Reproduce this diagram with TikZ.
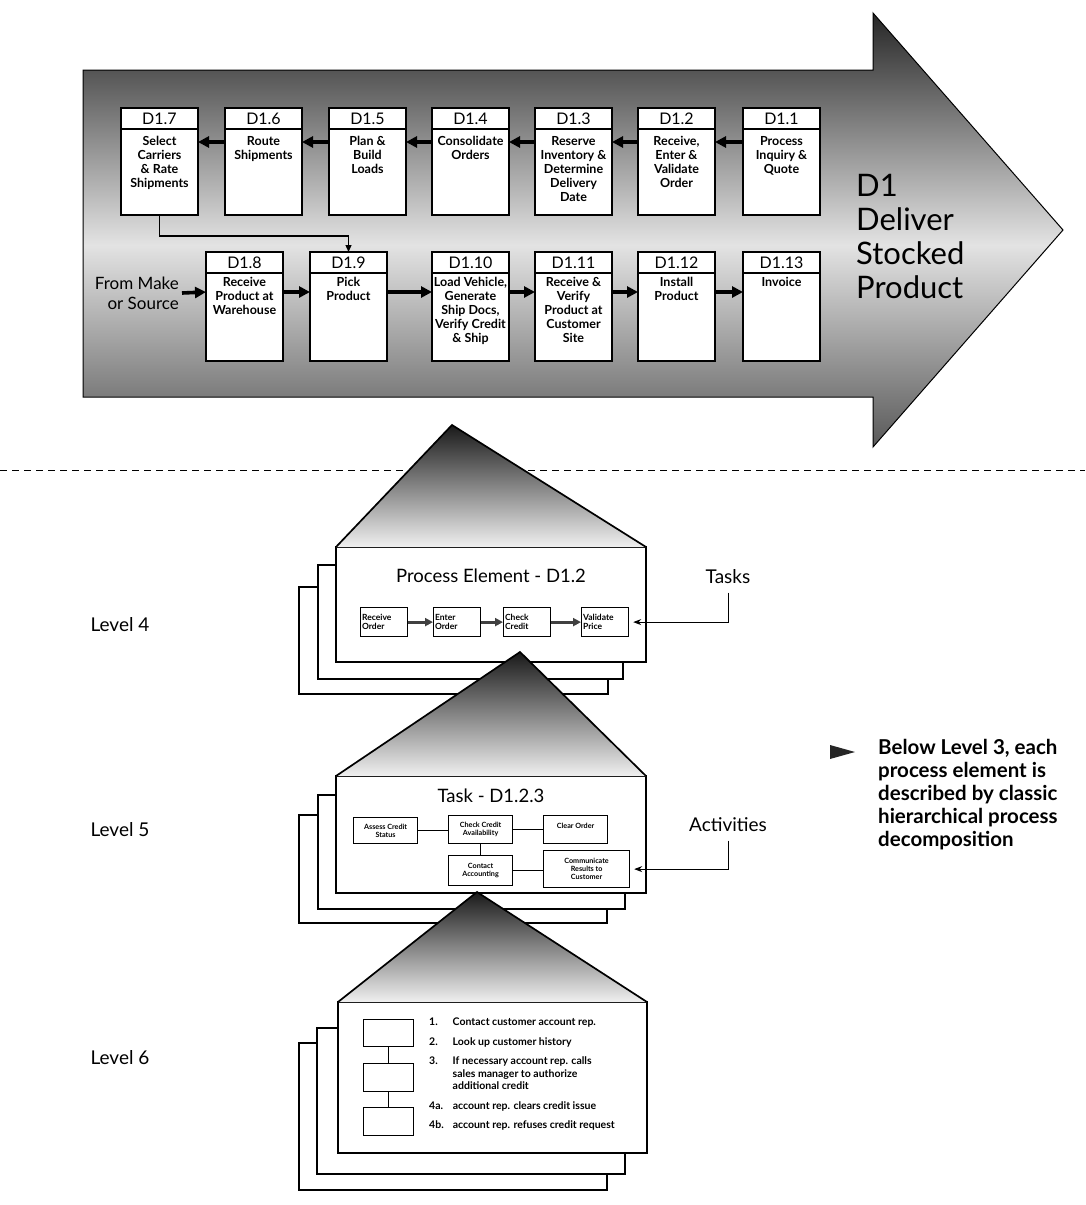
\documentclass[tikz,border=0pt]{standalone}
\usepackage{fontspec}
\setmainfont{Lato}
\usetikzlibrary{arrows.meta,calc}
\newcommand{\dbox}[7]{%
  \node[hdr] (#1h) at (#2,#3) {#4};
  \node[bdy, minimum height=#6pt] (#1) at (#1h.south west) {};
  \node[btxt] (#1t) at ([yshift=#7]#1.north) {#5};
}
\begin{document}
\begin{tikzpicture}[x=1pt,y=-1pt,
  hdr/.style={draw, line width=1.5pt, fill=white, minimum width=77pt, minimum height=21pt, inner sep=0pt, outer sep=0pt, anchor=north west, font=\fontsize{16}{16}\selectfont},
  bdy/.style={draw, line width=1.5pt, fill=white, minimum width=77pt, inner sep=0pt, outer sep=0pt, anchor=north west},
  btxt/.style={anchor=north, align=center, inner sep=0pt, font=\bfseries\fontsize{12.5}{14}\selectfont},
  flow/.style={line width=3.6pt, -{Triangle[length=11pt,width=11pt]}},
  link/.style={line width=1.3pt, -{Triangle[length=7pt,width=6pt]}},
  page/.style={draw, line width=1.3pt, fill=white},
  pyr/.style={top color=black!90, bottom color=black!6},
  pyredge/.style={line width=1.7pt, line join=miter},
  lvl/.style={font=\fontsize{19}{22}\selectfont},
  ib4/.style={draw, line width=1.2pt, fill=white, minimum width=47pt, minimum height=29pt, inner sep=1.5pt, text width=44pt, align=left, anchor=north west, font=\bfseries\fontsize{8.5}{9.5}\selectfont},
  sflow/.style={line width=3pt, black!75, -{Triangle[length=8pt,width=8pt]}},
  tarrow/.style={line width=1pt, -{Stealth[length=8pt,width=6pt]}, shorten >=4pt, shorten <=5pt},
  ib5/.style={draw, line width=1.2pt, fill=white, inner sep=1pt, align=center, anchor=north west, font=\bfseries\fontsize{7.2}{8.2}\selectfont},
  conn/.style={line width=1.2pt},
  sb/.style={draw, line width=1.4pt, fill=white, minimum width=50pt, anchor=north west, inner sep=0pt}
]
\useasboundingbox (0,0) rectangle (1085,1205);

% ---------- big arrow ----------
\begin{scope}
\clip (83,70) -- (873,70) -- (873,13) -- (1063,230) -- (873,447) -- (873,397) -- (83,397) -- cycle;
\shade[top color=black!85, bottom color=gray!22] (83,13) rectangle (1063,245);
\shade[top color=gray!22, bottom color=black!65] (83,245) rectangle (1063,447);
\end{scope}
\draw[line width=1pt, line join=miter] (83,70) -- (873,70) -- (873,13) -- (1063,230) -- (873,447) -- (873,397) -- (83,397) -- cycle;

% top row
\dbox{d17}{121}{108}{D1.7}{Select\\Carriers\\\& Rate\\Shipments}{86}{-7pt}
\dbox{d16}{225}{108}{D1.6}{Route\\Shipments}{86}{-7pt}
\dbox{d15}{329}{108}{D1.5}{Plan \&\\Build\\Loads}{86}{-7pt}
\dbox{d14}{432}{108}{D1.4}{Consolidate\\Orders}{86}{-7pt}
\dbox{d13}{535}{108}{D1.3}{Reserve\\Inventory \&\\Determine\\Delivery\\Date}{86}{-7pt}
\dbox{d12}{638}{108}{D1.2}{Receive,\\Enter \&\\Validate\\Order}{86}{-7pt}
\dbox{d11}{743}{108}{D1.1}{Process\\Inquiry \&\\Quote}{86}{-7pt}
\foreach \a/\b in {d16/d17,d15/d16,d14/d15,d13/d14,d12/d13,d11/d12}
  \draw[flow] ([yshift=-13pt]\a.north west) -- ([yshift=-13pt]\b.north east);

% bottom row
\dbox{d18}{206}{252}{D1.8}{Receive\\Product at\\Warehouse}{88}{-4pt}
\dbox{d19}{310}{252}{D1.9}{Pick\\Product}{88}{-4pt}
\dbox{d110}{432}{252}{D1.10}{Load Vehicle,\\Generate\\Ship Docs,\\Verify Credit\\\& Ship}{88}{-4pt}
\dbox{d111}{535}{252}{D1.11}{Receive \&\\Verify\\Product at\\Customer\\Site}{88}{-4pt}
\dbox{d112}{638}{252}{D1.12}{Install\\Product}{88}{-4pt}
\dbox{d113}{743}{252}{D1.13}{Invoice}{88}{-4pt}
\foreach \a/\b in {d18/d19,d19/d110,d110/d111,d111/d112,d112/d113}
  \draw[flow] ([yshift=-19pt]\a.north east) -- ([yshift=-19pt]\b.north west);

\draw[link] (d17.south) -- ++(0,21) -| (d19h.north);

\node[anchor=east, align=right, inner sep=1pt, font=\fontsize{17}{20}\selectfont] (src) at (180,293) {From Make\\or Source};
\draw[flow] ([xshift=2pt]src.east) -- ([yshift=-19pt]d18.north west);

\node[anchor=north west, align=left, inner sep=0pt, font=\fontsize{31}{34}\selectfont] (ttl) at (856,174) {D1\\Deliver\\Stocked\\Product};

% dashed separator
\draw[line width=0.9pt, dash pattern=on 7pt off 5pt] (0,470) -- (1085,470);

% ---------- Level 4 ----------
\draw[page] (299,587) rectangle (608,694);
\draw[page] (318,565) rectangle (623,679);
\draw[page] (336,547) rectangle (646,662);
\shade[pyr] (452,425) -- (646,547) -- (336,547) -- cycle;
\draw[pyredge] (336,547) -- (452,425) -- (646,547);
\node[font=\fontsize{18.5}{20}\selectfont] (pe) at (491,576) {Process Element - D1.2};
\node[ib4] (ro) at (360,607) {Receive\\Order};
\node[ib4] (eo) at (433,607) {Enter\\Order};
\node[ib4] (cc) at (503,607) {Check\\Credit};
\node[ib4] (vp) at (581,607) {Validate\\Price};
\draw[sflow] (ro) -- (eo);
\draw[sflow] (eo) -- (cc);
\draw[sflow] (cc) -- (vp);
\node[lvl] (tasks) at (728,577) {Tasks};
\draw[tarrow] (tasks.south) |- (vp.east);
\node[lvl] (lv4) at (120,625) {Level 4};

% ---------- Level 5 ----------
\draw[page] (299,815) rectangle (607,923);
\draw[page] (318,795) rectangle (625,909);
\draw[page] (336,776) rectangle (646,893);
\shade[pyr] (520,652) -- (646,776) -- (336,776) -- cycle;
\draw[pyredge] (336,776) -- (520,652) -- (646,776);
\node[font=\fontsize{18.5}{20}\selectfont] (task) at (491,796) {Task - D1.2.3};
\node[ib5, minimum width=64pt, minimum height=26pt] (acs) at (353,817) {Assess Credit\\Status};
\node[ib5, minimum width=64pt, minimum height=28pt] (cca) at (448,815) {Check Credit\\Availability};
\node[ib5, minimum width=64pt, minimum height=28pt] (clr) at (543,815) {Clear Order\\ \mbox{}};
\node[ib5, minimum width=64pt, minimum height=30pt] (cac) at (448,855) {Contact\\Accounting};
\node[ib5, minimum width=86pt, minimum height=37pt] (crc) at (543,850) {Communicate\\Results to\\Customer};
\draw[conn] (acs.east) -- (acs.east -| cca.west);
\draw[conn] (cca.east) -- (cca.east -| clr.west);
\draw[conn] (cca.south) -- (cac.north);
\draw[conn] (cac.east) -- (cac.east -| crc.west);
\node[lvl] (act) at (728,825) {Activities};
\draw[tarrow] (act.south) |- (crc.east);
\node[lvl] (lv5) at (120,830) {Level 5};

% ---------- Level 6 ----------
\draw[page] (299,1043) rectangle (607,1190);
\draw[page] (317,1028) rectangle (625,1174);
\draw[page] (338,1002) rectangle (647,1153);
\shade[pyr] (477,892) -- (647,1002) -- (338,1002) -- cycle;
\draw[pyredge] (338,1002) -- (477,892) -- (647,1002);
\node[sb, minimum height=27pt] (s1) at (363,1019) {};
\node[sb, minimum height=28pt] (s2) at (363,1063) {};
\node[sb, minimum height=28pt] (s3) at (363,1107) {};
\draw[conn] (s1) -- (s2);
\draw[conn] (s2) -- (s3);
\node[anchor=north west, inner sep=0pt, font=\bfseries\fontsize{10.5}{12.5}\selectfont] (steps) at (429,1017)
  {\begin{tabular}{@{}l@{\hspace{9pt}}l@{}}
   1. & Contact customer account rep.\\[7pt]
   2. & Look up customer history\\[7pt]
   3. & If necessary account rep. calls\\
      & sales manager to authorize\\
      & additional credit\\[7pt]
   4a. & account rep. clears credit issue\\[7pt]
   4b. & account rep. refuses credit request
   \end{tabular}};
\node[lvl] (lv6) at (120,1058) {Level 6};

% ---------- note ----------
\fill[black!85] (830,745) -- (855,752) -- (830,759) -- cycle;
\node[anchor=north west, align=left, inner sep=0pt, font=\bfseries\fontsize{20.5}{23}\selectfont] (note) at (878,739)
  {Below Level 3, each\\process element is\\described by classic\\hierarchical process\\decomposition};
\end{tikzpicture}
\end{document}
